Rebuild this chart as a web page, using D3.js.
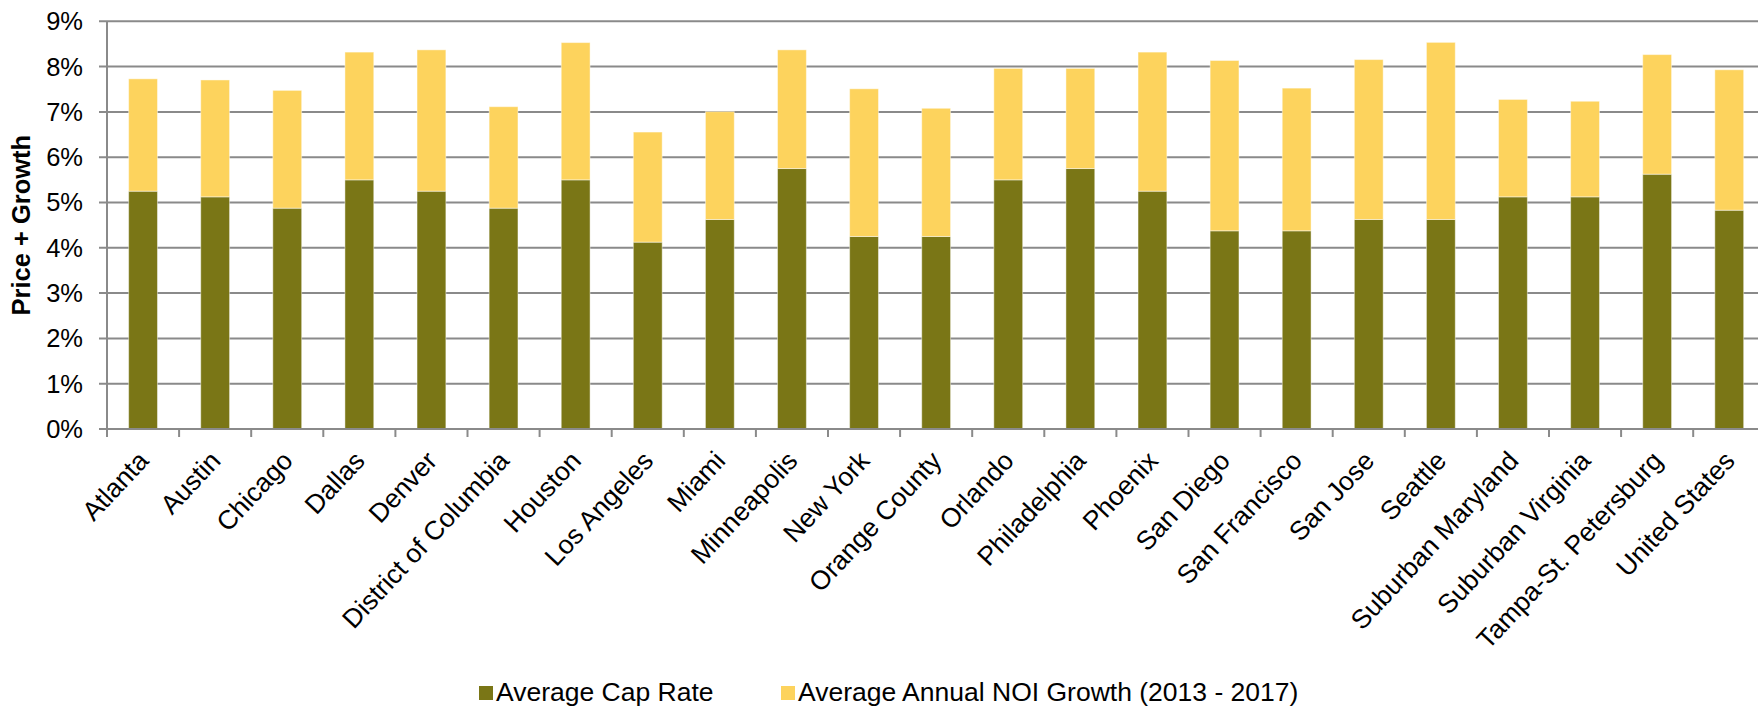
<!DOCTYPE html>
<html>
<head>
<meta charset="utf-8">
<script src="https://cdn.jsdelivr.net/npm/d3@7"></script>
<style>
  html, body { margin: 0; padding: 0; background: #ffffff; overflow: hidden; }
  svg { display: block; font-family: "Liberation Sans", Arial, Helvetica, sans-serif; }
</style>
</head>
<body>
<svg id="chart" width="1758" height="706"></svg>
<script>
// Markets shown along the x axis
const categories = [
  "Atlanta", "Austin", "Chicago", "Dallas", "Denver", "District of Columbia",
  "Houston", "Los Angeles", "Miami", "Minneapolis", "New York", "Orange County",
  "Orlando", "Philadelphia", "Phoenix", "San Diego", "San Francisco", "San Jose",
  "Seattle", "Suburban Maryland", "Suburban Virginia", "Tampa-St. Petersburg",
  "United States"
];

// Average cap rate (%), bottom segment
const capRate = [
  5.25, 5.125, 4.875, 5.5, 5.25, 4.875,
  5.5, 4.125, 4.625, 5.75, 4.25, 4.25,
  5.5, 5.75, 5.25, 4.375, 4.375, 4.625,
  4.625, 5.125, 5.125, 5.625, 4.83
];

// Average annual NOI growth 2013-2017 (%), stacked on top
const noiGrowth = [
  2.48, 2.58, 2.60, 2.82, 3.12, 2.24,
  3.03, 2.43, 2.38, 2.62, 3.26, 2.83,
  2.46, 2.21, 3.07, 3.76, 3.15, 3.53,
  3.91, 2.15, 2.11, 2.64, 3.10
];

const seriesNames = ["Average Cap Rate", "Average Annual NOI Growth (2013 - 2017)"];
const yTickValues = [0, 1, 2, 3, 4, 5, 6, 7, 8, 9];
const yTitle = "Price + Growth";

const seriesColors = ["#7a7616", "#fdd35d"];
const gridColor = "#8a8a8a";

const W = 1758, H = 706;
const plotLeft = 107, plotTop = 21.3, plotBottom = 429;
const step = 72.1;

const svg = d3.select("#chart");

const x = d3.scaleBand()
  .domain(categories)
  .range([plotLeft, plotLeft + step * categories.length])
  .paddingInner(0.6)
  .paddingOuter(0.3);

const y = d3.scaleLinear()
  .domain([0, 9])
  .range([plotBottom, plotTop]);

// Horizontal gridlines (with small ticks left of the axis)
svg.append("g")
  .selectAll("line")
  .data(yTickValues)
  .join("line")
  .attr("x1", plotLeft - 8)
  .attr("x2", W)
  .attr("y1", d => y(d))
  .attr("y2", d => y(d))
  .attr("stroke", gridColor)
  .attr("stroke-width", 2);

// Y tick labels
svg.append("g")
  .selectAll("text")
  .data(yTickValues)
  .join("text")
  .attr("x", plotLeft - 24)
  .attr("y", d => y(d))
  .attr("dy", "0.35em")
  .attr("text-anchor", "end")
  .attr("font-size", 25.5)
  .attr("fill", "#000")
  .text(d => d + "%");

// Y axis title
svg.append("text")
  .attr("transform", `translate(30, ${(plotTop + plotBottom) / 2}) rotate(-90)`)
  .attr("text-anchor", "middle")
  .attr("font-size", 25.5)
  .attr("font-weight", "bold")
  .attr("fill", "#000")
  .text(yTitle);

// Stacked bars
const rows = categories.map((c, i) => ({ category: c, cap: capRate[i], noi: noiGrowth[i] }));
const stack = d3.stack().keys(["cap", "noi"]);
const layers = stack(rows);

svg.append("g")
  .selectAll("g")
  .data(layers)
  .join("g")
  .attr("fill", (d, i) => seriesColors[i])
  .selectAll("rect")
  .data(d => d)
  .join("rect")
  .attr("x", d => x(d.data.category))
  .attr("width", x.bandwidth())
  .attr("y", d => y(d[1]))
  .attr("height", d => y(d[0]) - y(d[1]))
  .attr("stroke", "rgba(255,255,255,0.45)")
  .attr("stroke-width", 1);

// Y axis line
svg.append("line")
  .attr("x1", plotLeft).attr("x2", plotLeft)
  .attr("y1", plotTop).attr("y2", plotBottom + 8)
  .attr("stroke", gridColor).attr("stroke-width", 2);

// X axis line and category boundary ticks
svg.append("line")
  .attr("x1", plotLeft).attr("x2", W)
  .attr("y1", plotBottom).attr("y2", plotBottom)
  .attr("stroke", gridColor).attr("stroke-width", 2);

const boundaries = categories.map(c => x(c) - x.step() * 0.3).concat([x.range()[1]]);
svg.append("g")
  .selectAll("line")
  .data(boundaries)
  .join("line")
  .attr("x1", d => d).attr("x2", d => d)
  .attr("y1", plotBottom).attr("y2", plotBottom + 8)
  .attr("stroke", gridColor).attr("stroke-width", 2);

// Rotated category labels
svg.append("g")
  .selectAll("text")
  .data(categories)
  .join("text")
  .attr("transform", d => `translate(${x(d) + x.bandwidth() / 2 + 7}, 462) rotate(-47)`)
  .attr("text-anchor", "end")
  .attr("font-size", 26.5)
  .attr("fill", "#000")
  .text(d => d);

// Legend
const legendItems = [
  { name: seriesNames[0], color: seriesColors[0], x: 479 },
  { name: seriesNames[1], color: seriesColors[1], x: 781 }
];
const legend = svg.append("g");
const li = legend.selectAll("g")
  .data(legendItems)
  .join("g")
  .attr("transform", d => `translate(${d.x}, 0)`);
li.append("rect")
  .attr("x", 0).attr("y", 686)
  .attr("width", 14).attr("height", 14)
  .attr("fill", d => d.color);
li.append("text")
  .attr("x", 17).attr("y", 701)
  .attr("font-size", 26.5)
  .attr("fill", "#000")
  .text(d => d.name);
</script>
</body>
</html>
